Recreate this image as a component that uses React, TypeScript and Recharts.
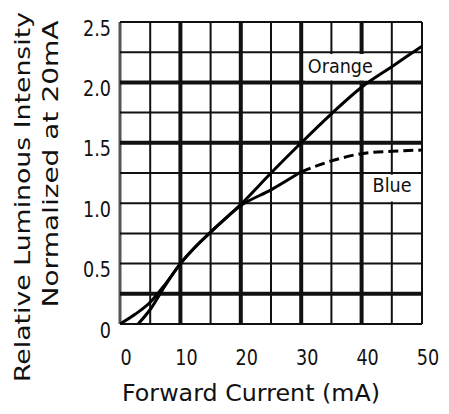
import React from 'react';
import { LineChart, Line, XAxis, YAxis, ReferenceLine, ReferenceArea, Label } from 'recharts';

const orangeCurrent = [3, 5, 7.5, 10, 12.5, 15, 20, 25, 30, 35, 40, 45, 50];
const orangeIntensity = [0, 0.12, 0.32, 0.5, 0.64, 0.76, 0.99, 1.25, 1.5, 1.74, 1.96, 2.13, 2.3];
const blueCurrent = [0, 2.5, 5, 7.5, 10, 12.5, 15, 20, 25, 30];
const blueIntensity = [0, 0.08, 0.18, 0.33, 0.5, 0.64, 0.76, 0.98, 1.11, 1.26];
const blueDashedCurrent = [30, 35, 40, 45, 50];
const blueDashedIntensity = [1.26, 1.35, 1.41, 1.43, 1.44];

const xTicks = [0, 10, 20, 30, 40, 50];
const yTicks = [0, 0.5, 1, 1.5, 2, 2.5];
const yTickLabels = ['0', '0.5', '1.0', '1.5', '2.0', '2.5'];
const xGrid = [0, 5, 10, 15, 20, 25, 30, 35, 40, 45, 50];
const yGrid = [0, 0.25, 0.5, 0.75, 1, 1.25, 1.5, 1.75, 2, 2.25, 2.5];
const thickX = [10, 20, 30, 40];
const thickY = [0.25, 1.5, 2];

const xTitle = 'Forward Current (mA)';
const yTitle1 = 'Relative Luminous Intensity';
const yTitle2 = 'Normalized at 20mA';

const zip = (xs: number[], ys: number[]) => xs.map((x, i) => ({ x, y: ys[i] }));
const orangeData = zip(orangeCurrent, orangeIntensity);
const blueData = zip(blueCurrent, blueIntensity);
const blueDashedData = zip(blueDashedCurrent, blueDashedIntensity);

const FONT = '"DejaVu Sans", sans-serif';

const XTick = (props: any) => {
  const { x, y, payload } = props;
  return (
    <text transform={`translate(${x + 6},${y + 41}) scale(0.8,1)`} textAnchor="middle" fontSize={22} fontFamily={FONT} fill="#111">
      {String(payload.value)}
    </text>
  );
};

const YTick = (props: any) => {
  const { x, y, payload } = props;
  const idx = yTicks.indexOf(payload.value);
  return (
    <text transform={`translate(${x - 9},${y + 13.5}) scale(0.8,1)`} textAnchor="end" fontSize={22} fontFamily={FONT} fill="#111">
      {idx >= 0 ? yTickLabels[idx] : String(payload.value)}
    </text>
  );
};

const XTitle = (props: any) => {
  const vb = props.viewBox || {};
  const cx = vb.x + vb.width / 2 - 20;
  return (
    <text x={cx} y={401} textAnchor="middle" fontSize={23} fontFamily={FONT} fill="#111" textLength={258} lengthAdjust="spacingAndGlyphs">
      {xTitle}
    </text>
  );
};

const YTitle = (props: any) => {
  const vb = props.viewBox || {};
  const cy = vb.y + vb.height / 2;
  return (
    <g>
      <text transform={`translate(30,${cy + 24}) rotate(-90)`} textAnchor="middle" fontSize={22} fontFamily={FONT} fill="#111" textLength={370} lengthAdjust="spacingAndGlyphs">
        {yTitle1}
      </text>
      <text transform={`translate(58,${cy - 9}) rotate(-90)`} textAnchor="middle" fontSize={22} fontFamily={FONT} fill="#111" textLength={287} lengthAdjust="spacingAndGlyphs">
        {yTitle2}
      </text>
    </g>
  );
};

const makeBoxLabel = (text: string, dx: number, dy: number, len: number) => (props: any) => {
  const vb = props.viewBox || {};
  return (
    <text x={vb.x + dx} y={vb.y + dy} fontSize={20} fontFamily={FONT} fill="#111" textLength={len} lengthAdjust="spacingAndGlyphs">
      {text}
    </text>
  );
};

export default function App() {
  return (
    <div style={{ position: 'absolute', left: 0, top: 0, background: '#fff' }}>
      <LineChart width={449} height={414} margin={{ top: 22, right: 27, left: 60, bottom: 30 }}>
        <XAxis
          dataKey="x"
          type="number"
          domain={[0, 50]}
          ticks={xTicks}
          allowDataOverflow
          axisLine={false}
          tickLine={false}
          tickSize={0}
          tickMargin={0}
          height={60}
          tick={<XTick />}
          interval={0}
        >
          <Label content={<XTitle />} />
        </XAxis>
        <YAxis
          type="number"
          domain={[0, 2.5]}
          ticks={yTicks}
          allowDataOverflow
          axisLine={false}
          tickLine={false}
          tickSize={0}
          tickMargin={0}
          width={60}
          tick={<YTick />}
          interval={0}
        >
          <Label content={<YTitle />} />
        </YAxis>
        {xGrid.map((v) => (
          <ReferenceLine
            key={'gx' + v}
            x={v}
            stroke={v === 0 ? '#555' : '#111'}
            strokeWidth={thickX.includes(v) ? 4 : v === 0 ? 3 : 2}
            zIndex={-100}
          />
        ))}
        {yGrid.map((v) => (
          <ReferenceLine
            key={'gy' + v}
            y={v}
            stroke="#111"
            strokeWidth={thickY.includes(v) ? 4 : 2}
            zIndex={-100}
          />
        ))}
        <ReferenceArea x1={30.6} x2={44.2} y1={2.015} y2={2.235} fill="#fff" fillOpacity={1} stroke="none" zIndex={50}
          label={makeBoxLabel('Orange', 3, 18.5, 65)} />
        <ReferenceArea x1={40.5} x2={49.6} y1={1.015} y2={1.235} fill="#fff" fillOpacity={1} stroke="none" zIndex={50}
          label={makeBoxLabel('Blue', 8, 17.6, 39)} />
        <Line data={orangeData} dataKey="y" type="monotone" stroke="#000" strokeWidth={3} dot={false} isAnimationActive={false} />
        <Line data={blueData} dataKey="y" type="monotone" stroke="#000" strokeWidth={3} dot={false} isAnimationActive={false} />
        <Line data={blueDashedData} dataKey="y" type="monotone" stroke="#000" strokeWidth={3} strokeDasharray="10 5" dot={false} isAnimationActive={false} />
      </LineChart>
    </div>
  );
}
